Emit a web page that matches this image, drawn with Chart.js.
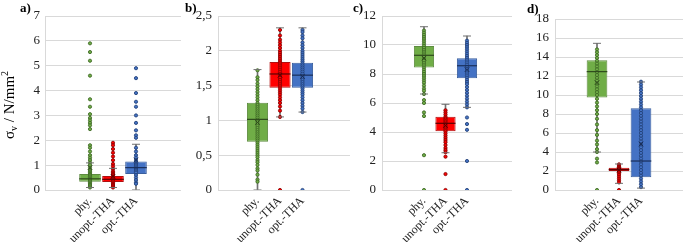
<!DOCTYPE html>
<html><head><meta charset="utf-8">
<script src="https://cdn.jsdelivr.net/npm/chart.js@4.4.1/dist/chart.umd.min.js"></script>
<style>
body{margin:0;background:#fff;width:685px;height:246px;overflow:hidden;position:relative}
canvas{position:absolute;top:0}
</style>
</head><body>
<canvas id="ca" width="182" height="246" style="left:0px"></canvas>
<canvas id="cb" width="168" height="246" style="left:182px"></canvas>
<canvas id="cc" width="164" height="246" style="left:350px"></canvas>
<canvas id="cd" width="171" height="246" style="left:514px"></canvas>
<script>
// ---- categories ----
const seriesNames = ['phy.', 'unopt.-THA', 'opt.-THA'];

// ---- y tick labels ----
const aTicks = ['0','1','2','3','4','5','6','7'];
const bTicks = ['0','0,5','1','1,5','2','2,5'];
const cTicks = ['0','2','4','6','8','10','12'];
const dTicks = ['0','2','4','6','8','10','12','14','16','18'];

// ---- panel a: data points ----
const aPhy = [5.9,5.55,5.2,4.6,3.65,3.35,3.05,2.9,2.8,2.7,2.6,2.45,1.8,1.7,1.55,1.4,1.3,1.2,1.1,1.0,0.9,0.8,0.75,0.7,0.65,0.6,0.55,0.5,0.45,0.4,0.35,0.3,0.25,0.2,0.15,0.1];
const aUnopt = [1.9,1.8,1.65,1.5,1.35,1.2,1.05,0.95,0.85,0.75,0.7,0.65,0.6,0.55,0.5,0.45,0.4,0.35,0.3,0.25,0.2,0.15,0.1];
const aOpt = [4.9,4.5,3.9,3.55,3.35,3.0,2.7,2.4,2.2,2.1,1.7,1.55,1.4,1.3,1.2,1.1,1.05,1.0,0.95,0.9,0.85,0.8,0.75,0.7,0.6,0.5,0.4,0.3,0.25];
// box stats [phy, unopt, opt]
const aQ1 = [0.33,0.32,0.64], aMed = [0.45,0.43,0.90], aQ3 = [0.64,0.56,1.15];
const aLo = [0.1,0.1,0.0], aHi = [1.09,0.87,1.84], aMean = [0.9,0.55,1.2];

// ---- panel b ----
const bPhy = [1.72,1.62,1.58,1.53,1.49,1.45,1.41,1.37,1.33,1.29,1.25,1.22,1.19,1.16,1.13,1.1,1.07,1.04,1.01,0.98,0.95,0.92,0.89,0.86,0.83,0.8,0.77,0.74,0.71,0.68,0.65,0.62,0.59,0.56,0.53,0.5,0.47,0.43,0.4,0.36,0.31,0.28,0.22,0.15,0.12];
const bUnopt = [2.3,2.22,2.16,2.12,2.08,2.04,2.0,1.97,1.94,1.91,1.88,1.85,1.82,1.79,1.76,1.73,1.7,1.67,1.64,1.61,1.58,1.55,1.52,1.49,1.46,1.43,1.4,1.37,1.33,1.29,1.25,1.2,1.14,1.05,0];
const bOpt = [2.3,2.27,2.22,2.18,2.12,2.08,2.04,2.0,1.97,1.94,1.91,1.88,1.85,1.82,1.79,1.76,1.73,1.7,1.67,1.64,1.61,1.58,1.55,1.52,1.49,1.46,1.43,1.4,1.37,1.33,1.29,1.25,1.21,1.17,1.12,0];
const bQ1 = [0.694,1.47,1.47], bMed = [1.015,1.667,1.65], bQ3 = [1.254,1.84,1.83];
const bLo = [0,1.05,1.12], bHi = [1.73,2.33,2.33], bMean = [0.97,1.65,1.63];

// ---- panel c ----
const cPhy = [11.0,10.85,10.7,10.55,10.4,10.25,10.1,9.95,9.8,9.65,9.5,9.35,9.2,9.05,8.9,8.75,8.6,8.45,8.3,8.15,8.0,7.85,7.7,7.55,7.4,7.2,7.0,6.85,6.62,6.2,6.0,5.35,5.1,2.4,0];
const cUnopt = [5.5,5.35,5.2,5.05,4.95,4.85,4.75,4.65,4.55,4.45,4.35,4.25,4.15,4.05,3.9,3.75,3.6,3.45,3.3,3.1,2.9,2.75,2.6,2.3,1.1,0];
const cOpt = [10.3,10.15,10.0,9.85,9.7,9.55,9.4,9.25,9.1,8.95,8.8,8.65,8.5,8.35,8.2,8.05,7.9,7.75,7.6,7.45,7.3,7.1,6.9,6.7,6.5,6.3,6.1,5.9,5.7,5.0,4.55,4.15,2.0,0];
const cQ1 = [8.44,4.05,7.7], cMed = [9.29,4.6,8.57], cQ3 = [9.93,5.06,9.08];
const cLo = [6.62,2.57,5.7], cHi = [11.26,5.91,10.62], cMean = [9.1,4.45,8.3];

// ---- panel d ----
const dPhy = [14.8,14.5,14.2,13.9,13.6,13.3,13.0,12.7,12.4,12.1,11.8,11.5,11.2,10.9,10.6,10.3,10.0,9.6,9.2,8.8,8.4,8.0,7.5,6.9,6.3,5.8,5.2,4.8,4.3,4.0,3.3,2.9,0];
const dUnopt = [2.7,2.55,2.45,2.35,2.25,2.2,2.15,2.1,2.05,2.0,1.9,1.75,1.6,1.4,1.2,1.0,0.8,0];
const dOpt = [11.4,11.1,10.8,10.5,10.2,9.9,9.6,9.3,9.0,8.7,8.4,8.1,7.8,7.5,7.2,6.9,6.6,6.3,6.0,5.7,5.4,5.1,4.8,4.5,4.2,3.9,3.6,3.3,3.0,2.7,2.4,2.1,1.8,1.5,1.2,0.9,0.6,0.3];
const dQ1 = [9.75,2.0,1.34], dMed = [12.46,2.15,3.05], dQ3 = [13.65,2.35,8.6];
const dLo = [4.0,0.7,0.2], dHi = [15.44,2.74,11.37], dMean = [11.3,2.1,4.84];

// ---- styles ----
const fillC = ['#70AD47','#FF0000','#4472C4'];
const edgeC = ['#5E8C40','#B01010','#3A5F9E'];
const ptEdge = ['#3F6A26','#8A0000','#24437A'];
const darkC = ['#2E4A1C','#5A0000','#1A2F5A'];
const whiskC = '#707070';
const FONT = "'Liberation Serif','Times New Roman',serif";

function panel(id, o) {
  const datasets = [];
  o.points.forEach((arr, i) => {
    datasets.push({type:'scatter', order:3, data: arr.map(v => ({x:i+1, y:v})),
      pointRadius:1.6, pointBorderWidth:0.9, backgroundColor: fillC[i], borderColor: ptEdge[i]});
  });
  datasets.push({type:'scatter', order:1, data: o.med.map((v,i)=>({x:i+1,y:v})),
    pointStyle:'line', pointRadius:o.half, borderWidth:1.2, borderColor: darkC});
  datasets.push({type:'scatter', order:1, data: o.mean.map((v,i)=>({x:i+1,y:v})),
    pointStyle:'crossRot', pointRadius:3.2, borderWidth:1, borderColor: darkC});
  datasets.push({type:'scatter', order:2, data: o.lo.map((v,i)=>({x:i+1,y:v})).concat(o.hi.map((v,i)=>({x:i+1,y:v}))),
    pointStyle:'line', pointRadius:4, borderWidth:1, borderColor: whiskC});
  datasets.push({type:'bar', order:4, grouped:false, data: o.q1.map((v,i)=>({x:i+1, y:[v, o.q3[i]]})),
    backgroundColor: fillC, borderColor: edgeC, borderWidth:1, borderSkipped:false,
    barPercentage:0.94, categoryPercentage:1});
  datasets.push({type:'bar', order:5, grouped:false, data: o.lo.map((v,i)=>({x:i+1, y:[v, o.hi[i]]})),
    backgroundColor: whiskC, borderWidth:0, barThickness:1});

  const labelPlugin = {id:'lbl'+id, afterDraw(chart){
    const ctx = chart.ctx; ctx.save();
    ctx.fillStyle = '#000';
    ctx.font = "bold 13px " + FONT; ctx.textBaseline = 'alphabetic'; ctx.textAlign='left';
    ctx.fillText(o.tag, o.tagX, o.tagY);
    if (o.ytitle) {
      ctx.translate(9, 105); ctx.rotate(-Math.PI/2);
      const big = "15px " + FONT, small = "10px " + FONT;
      const parts = [['σ',big,0],['v',small,3],[' / N/mm',big,0],['2',small,-6]];
      let w = 0; parts.forEach(p => { ctx.font = p[1]; w += ctx.measureText(p[0]).width; });
      let x = -w/2;
      parts.forEach(p => { ctx.font = p[1]; ctx.fillText(p[0], x, 5 + p[2]); x += ctx.measureText(p[0]).width; });
    }
    ctx.restore();
  }};

  new Chart(document.getElementById(id), {
    type:'bar', data:{datasets}, plugins:[labelPlugin],
    options:{
      responsive:false, animation:false, devicePixelRatio:1,
      layout:{autoPadding:false, padding:{top:o.top, right:o.right, left:0, bottom:0}},
      plugins:{legend:{display:false}, tooltip:{enabled:false}},
      scales:{
        x:{type:'linear', min:o.xmin, max:o.xmax, offset:false,
           grid:{display:false}, border:{display:false},
           afterBuildTicks(s){ s.ticks = [1,2,3].map(v=>({value:v})); },
           afterFit(s){ s.height = 56; s.paddingLeft = 0; s.paddingRight = 0; },
           ticks:{autoSkip:false, maxRotation:45, minRotation:45, padding:-4,
             font:{family:FONT, size:12}, color:'#222',
             callback:(v)=>seriesNames[v-1]}},
        y:{min:0, max:o.ymax, afterFit(s){ s.width = o.yw; },
           grid:{color:'#D9D9D9', drawTicks:false}, border:{color:'#D9D9D9'},
           ticks:{stepSize:o.step, padding:o.tpad, font:{family:FONT, size:13}, color:'#222',
             callback:(v,i)=>o.ticks[i]}}
      }
    }
  });
}

panel('ca', {points:[aPhy,aUnopt,aOpt], q1:aQ1, med:aMed, q3:aQ3, lo:aLo, hi:aHi, mean:aMean,
  ticks:aTicks, ymax:7, step:1, top:16, right:1, yw:45, tpad:5, xmin:-0.957, xmax:4.957, half:10.8,
  tag:'a)', tagX:20, tagY:12, ytitle:true});
panel('cb', {points:[bPhy,bUnopt,bOpt], q1:bQ1, med:bMed, q3:bQ3, lo:bLo, hi:bHi, mean:bMean,
  ticks:bTicks, ymax:2.5, step:0.5, top:16, right:0, yw:36, tpad:6, xmin:-0.756, xmax:5.111, half:10.5,
  tag:'b)', tagX:3, tagY:12});
panel('cc', {points:[cPhy,cUnopt,cOpt], q1:cQ1, med:cMed, q3:cQ3, lo:cLo, hi:cHi, mean:cMean,
  ticks:cTicks, ymax:12, step:2, top:16, right:2, yw:32, tpad:6, xmin:-0.953, xmax:5.093, half:10,
  tag:'c)', tagX:3, tagY:12});
panel('cd', {points:[dPhy,dUnopt,dOpt], q1:dQ1, med:dMed, q3:dQ3, lo:dLo, hi:dHi, mean:dMean,
  ticks:dTicks, ymax:18, step:2, top:19, right:2, yw:41, tpad:6, xmin:-0.909, xmax:4.909, half:10.3,
  tag:'d)', tagX:13, tagY:13});
</script>
</body></html>
